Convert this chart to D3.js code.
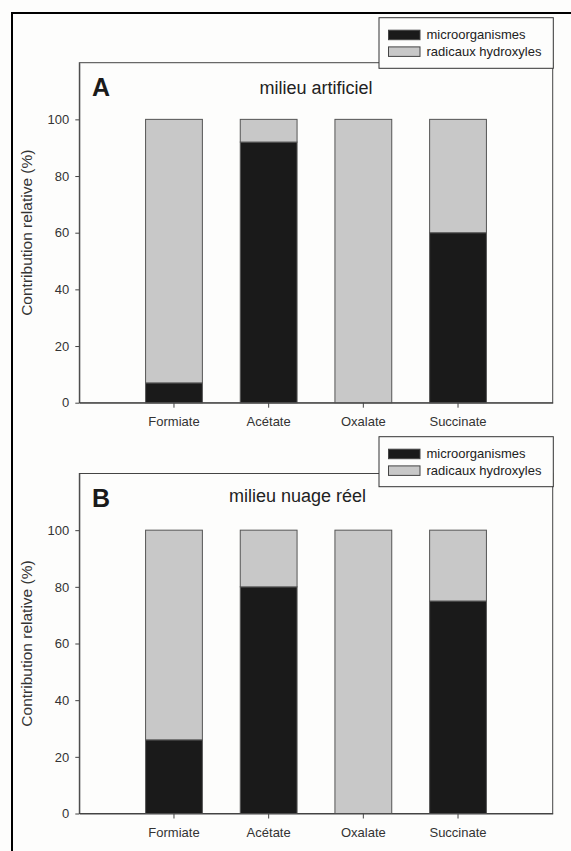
<!DOCTYPE html>
<html>
<head>
<meta charset="utf-8">
<script src="https://cdn.jsdelivr.net/npm/d3@7"></script>
<style>
  html, body { margin: 0; padding: 0; background: #fdfdfc; }
  svg { display: block; }
  text { font-family: "Liberation Sans", Arial, sans-serif; }
</style>
</head>
<body>
<svg id="chart" width="571" height="851"></svg>
<script>
// ---- data ----
const categories = ["Formiate", "Acétate", "Oxalate", "Succinate"];
const seriesNames = ["microorganismes", "radicaux hydroxyles"];
const microA = [7, 92, 0, 60];
const hydroxA = [93, 8, 100, 40];
const microB = [26, 80, 0, 75];
const hydroxB = [74, 20, 100, 25];
const yTicks = [0, 20, 40, 60, 80, 100];
const panelLetters = ["A", "B"];
const panelTitles = ["milieu artificiel", "milieu nuage réel"];
const yLabel = "Contribution relative (%)";

// ---- layout ----
const colors = ["#1a1a1a", "#c8c8c8"];
const svg = d3.select("#chart");

svg.append("rect").attr("x", 12).attr("y", 13).attr("width", 700).attr("height", 1000)
  .attr("fill", "none").attr("stroke", "#000").attr("stroke-width", 2);

const panels = [
  { micro: microA, hydrox: hydroxA, top: 62.7, bottom: 402.7, legTop: 17.7, legBottom: 68.3, titleX: 316, titleDy: 31 },
  { micro: microB, hydrox: hydroxB, top: 473.5, bottom: 813.5, legTop: 436.7, legBottom: 486.7, titleX: 297.5, titleDy: 28 }
];
const left = 79.3, right = 552.7;

panels.forEach((p, i) => {
  const g = svg.append("g");
  const x = d3.scaleBand().domain(categories).range([left, right]).paddingInner(0.4).paddingOuter(0.7);
  const y = d3.scaleLinear().domain([0, 120]).range([p.bottom, p.top]);

  // frame
  g.append("rect").attr("x", left).attr("y", p.top).attr("width", right - left).attr("height", p.bottom - p.top)
    .attr("fill", "#fdfdfc").attr("stroke", "#444").attr("stroke-width", 1);

  // stacked bars
  const rows = categories.map((c, k) => ({ cat: c, micro: p.micro[k], hydrox: p.hydrox[k] }));
  const stack = d3.stack().keys(["micro", "hydrox"])(rows);
  stack.forEach((layer, li) => {
    g.selectAll(null).data(layer.filter(d => d[1] - d[0] > 0)).enter().append("rect")
      .attr("x", d => x(d.data.cat))
      .attr("width", x.bandwidth())
      .attr("y", d => y(d[1]))
      .attr("height", d => y(d[0]) - y(d[1]))
      .attr("fill", colors[li])
      .attr("stroke", "#555").attr("stroke-width", 1);
  });

  // y axis
  const yAxis = d3.axisLeft(y).tickValues(yTicks).tickSize(4).tickSizeOuter(0).tickPadding(6);
  const ya = g.append("g").attr("transform", `translate(${left},0)`).call(yAxis);
  ya.select(".domain").attr("stroke", "#444");
  ya.selectAll(".tick line").attr("stroke", "#444");
  ya.selectAll(".tick text").attr("font-size", 13).attr("fill", "#333")
    .attr("font-family", "Liberation Sans, Arial, sans-serif");

  // x axis
  const xAxis = d3.axisBottom(x).tickSize(5).tickSizeOuter(0).tickPadding(9);
  const xa = g.append("g").attr("transform", `translate(0,${p.bottom})`).call(xAxis);
  xa.select(".domain").attr("stroke", "#444");
  xa.selectAll(".tick line").attr("stroke", "#444");
  xa.selectAll(".tick text").attr("font-size", 13).attr("fill", "#333")
    .attr("font-family", "Liberation Sans, Arial, sans-serif");

  // y label
  g.append("text")
    .attr("transform", `translate(32,${(p.top + p.bottom) / 2}) rotate(-90)`)
    .attr("text-anchor", "middle").attr("font-size", 15.5).attr("fill", "#333")
    .text(yLabel);

  // letter and title
  g.append("text").attr("x", 92).attr("y", p.top + 33.5).attr("font-size", 25).attr("font-weight", "bold")
    .attr("fill", "#1a1a1a").text(panelLetters[i]);
  g.append("text").attr("x", p.titleX).attr("y", p.top + p.titleDy).attr("text-anchor", "middle")
    .attr("font-size", 18).attr("fill", "#222").text(panelTitles[i]);

  // legend
  const lg = g.append("g");
  lg.append("rect").attr("x", 379).attr("y", p.legTop).attr("width", 553.3 - 379).attr("height", p.legBottom - p.legTop)
    .attr("fill", "#fdfdfc").attr("stroke", "#333").attr("stroke-width", 1);
  seriesNames.forEach((s, k) => {
    const sy = p.legTop + 12.5 + k * 16.7;
    lg.append("rect").attr("x", 388.5).attr("y", sy).attr("width", 31.5).attr("height", 9.5)
      .attr("fill", colors[k]).attr("stroke", "#444").attr("stroke-width", 1);
    lg.append("text").attr("x", 426.5).attr("y", sy + 8.8).attr("font-size", 13).attr("fill", "#222").text(s);
  });
});
</script>
</body>
</html>
